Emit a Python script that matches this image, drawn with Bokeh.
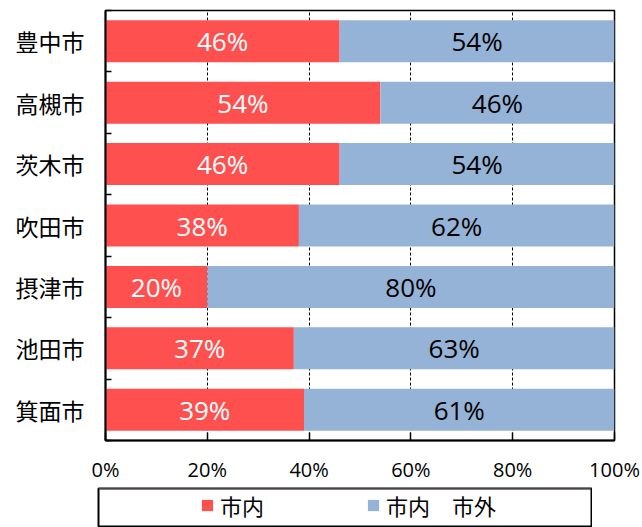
from bokeh.plotting import figure
from bokeh.models import (Range1d, FixedTicker, Legend, LegendItem, ColumnDataSource, Spacer)
from bokeh.layouts import column, row
from bokeh.core.properties import value
from bokeh.embed import file_html
from bokeh.resources import INLINE
import numpy as np

# ---- data ----
cities = ["豊中市", "高槻市", "茨木市", "吹田市", "摂津市", "池田市", "箕面市"]
inside = [46, 54, 46, 38, 20, 37, 39]      # 市内 (%)
outside = [54, 46, 54, 62, 80, 63, 61]     # 市内　市外 (%)
x_ticks = [0, 20, 40, 60, 80, 100]
x_tick_labels = ["0%", "20%", "40%", "60%", "80%", "100%"]
series_names = ["市内", "市内　市外"]

RED = "#FF5050"
BLUE = "#95B3D7"

n = len(cities)
ypos = np.arange(n)[::-1].astype(float)   # first city on top
inside_a = np.array(inside, dtype=float)
outside_a = np.array(outside, dtype=float)

W, H = 642, 487
FL, FR, FT, FB = 105, 614, 10, 440

p = figure(width=W, height=H, output_backend="svg", toolbar_location=None,
           x_range=Range1d(0, 100), y_range=Range1d(-0.5, n - 0.5),
           min_border_left=FL, min_border_right=W - FR,
           min_border_top=FT, min_border_bottom=H - FB)

p.background_fill_color = "white"
p.border_fill_color = "white"
p.outline_line_color = "black"
p.outline_line_width = 1.5

src = ColumnDataSource(dict(
    y=ypos, zero=np.zeros(n), inside=inside_a,
    end=inside_a + outside_a,
    in_mid=inside_a / 2, out_mid=inside_a + outside_a / 2,
    in_txt=[f"{v}%" for v in inside], out_txt=[f"{v}%" for v in outside],
))

bar_h = 0.684
p.hbar(y="y", left="zero", right="inside", height=bar_h, source=src,
       fill_color=RED, line_color=None)
p.hbar(y="y", left="inside", right="end", height=bar_h, source=src,
       fill_color=BLUE, line_color=None)

p.text(x="in_mid", y="y", text="in_txt", source=src, text_color="white",
       text_font=value("Open Sans"), text_font_size="26px",
       text_align="center", text_baseline="middle")
p.text(x="out_mid", y="y", text="out_txt", source=src, text_color="black",
       text_font=value("Open Sans"), text_font_size="26px",
       text_align="center", text_baseline="middle")

# grid
p.ygrid.visible = False
p.xgrid.ticker = FixedTicker(ticks=x_ticks)
p.xgrid.grid_line_color = "black"
p.xgrid.grid_line_width = 1
p.xgrid.grid_line_dash = "3 2"

# x axis
xa = p.xaxis[0]
xa.ticker = FixedTicker(ticks=x_ticks)
xa.major_label_overrides = {t: l for t, l in zip(x_ticks, x_tick_labels)}
xa.major_tick_in = 8
xa.major_tick_out = 0
xa.major_tick_line_width = 1.5
xa.minor_tick_line_color = None
xa.axis_line_width = 2
xa.major_label_text_font = "Open Sans"
xa.major_label_text_font_size = "20px"
xa.major_label_text_color = "black"
xa.major_label_standoff = 15

# y axis
ya = p.yaxis[0]
ya.ticker = FixedTicker(ticks=list(ypos), minor_ticks=list(np.arange(n + 1) - 0.5))
ya.major_label_overrides = {float(y): c for y, c in zip(ypos, cities)}
ya.major_tick_in = 0
ya.major_tick_out = 0
ya.minor_tick_in = 6
ya.minor_tick_out = 0
ya.minor_tick_line_width = 1.5
ya.minor_tick_line_color = "black"
ya.axis_line_width = 2
ya.major_label_text_font = "Noto Sans CJK JP"
ya.major_label_text_font_size = "23px"
ya.major_label_text_color = "black"
ya.major_label_standoff = 21

# ---- legend panel (boxed) ----
LW_, LH_ = 495, 40
p2 = figure(width=LW_, height=LH_, output_backend="svg", toolbar_location=None,
            x_range=Range1d(0, 1), y_range=Range1d(0, 1),
            min_border_left=1, min_border_right=1, min_border_top=1, min_border_bottom=1)
p2.axis.visible = False
p2.grid.visible = False
p2.outline_line_color = "black"
p2.outline_line_width = 2
p2.background_fill_color = "white"
p2.border_fill_color = "white"

# legend-key renderers (kept outside the visible range of this panel)
key_src = ColumnDataSource(dict(y=[10.0], l=[0.0], r=[1.0]))
d_in = p2.hbar(y="y", left="l", right="r", height=1, source=key_src,
               fill_color=RED, line_color=None)
d_out = p2.hbar(y="y", left="l", right="r", height=1, source=key_src,
                fill_color=BLUE, line_color=None)

legend = Legend(items=[LegendItem(label=series_names[0], renderers=[d_in]),
                       LegendItem(label=series_names[1], renderers=[d_out])],
                orientation="horizontal", location=(102, 5),
                padding=0, margin=0, spacing=46,
                glyph_width=14, glyph_height=14, label_standoff=6,
                label_width=100, label_height=22,
                label_text_font="Noto Sans CJK JP", label_text_font_size="22px",
                label_text_color="black",
                border_line_alpha=0, background_fill_alpha=0)
p2.add_layout(legend, "center")

layout = column(p, row(Spacer(width=97, height=LH_), p2, spacing=0), spacing=0)

open("out.html", "w").write(file_html(layout, INLINE))
